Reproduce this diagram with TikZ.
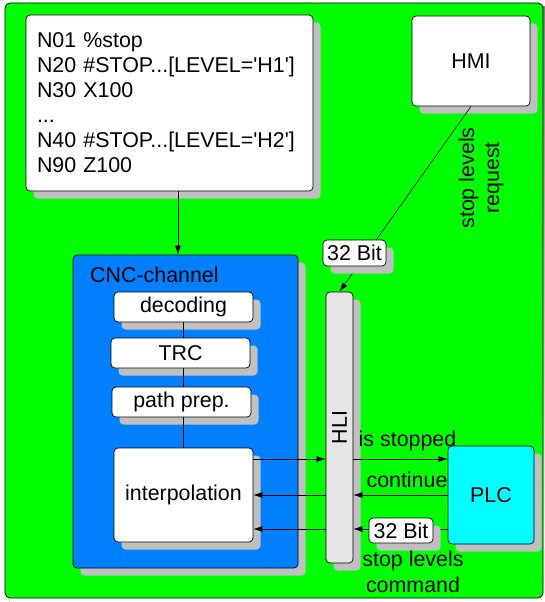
\documentclass[tikz,border=0pt]{standalone}
\usepackage{fontspec}
\newfontfamily\arial{Liberation Sans}
\usetikzlibrary{arrows.meta}
\definecolor{shade}{RGB}{192,192,192}
\definecolor{bggreen}{RGB}{0,255,0}
\definecolor{cncblue}{RGB}{0,128,255}
\definecolor{hligray}{RGB}{230,230,230}
\definecolor{plccyan}{RGB}{0,255,255}
\tikzset{
  shadowed/.style={preaction={fill=shade, draw=none, transform canvas={shift={(7.5pt,-7.5pt)}}}},
  box/.style={draw=black, line width=0.7pt, rounded corners=4pt, fill=white, shadowed, inner sep=0pt},
  arr/.style={-{Latex[length=9pt,width=6pt]}, line width=0.6pt},
  lbl/.style={inner sep=0pt, anchor=base},
}
\begin{document}
\begin{tikzpicture}[x=1pt,y=-1pt,font=\arial\fontsize{21.4}{25}\selectfont]
\useasboundingbox (0,0) rectangle (544,602);
% background
\fill[shade, rounded corners=5pt] (8,6) rectangle (548,603);
\node[draw=black, line width=0.8pt, fill=bggreen, rounded corners=5pt, minimum width=538pt, minimum height=595pt, inner sep=0pt] (bg) at (274,300.5) {};
% program box
\node[box, minimum height=176pt, text width=265pt, inner xsep=11pt, align=left] (code) at (169.5,103)
  {N01 \%stop\\N20 \#STOP...[LEVEL='H1']\\N30 X100\\...\\N40 \#STOP...[LEVEL='H2']\\N90 Z100};
% HMI
\node[box, minimum width=118pt, minimum height=90pt] (hmi) at (471,61) {HMI};
% CNC channel
\node[box, fill=cncblue, minimum width=225pt, minimum height=313pt] (cnc) at (185.5,411.5) {};
\node[lbl, anchor=base west] (cnclabel) at (90,282) {CNC-channel};
\node[box, minimum width=139pt, minimum height=30pt] (dec) at (183.5,307) {decoding};
\node[box, minimum width=139pt, minimum height=30pt] (trc) at (180.5,353) {TRC};
\node[box, minimum width=139pt, minimum height=30pt] (pp) at (181.5,402) {path prep.};
\node[box, minimum width=139pt, minimum height=94pt] (interp) at (183.5,495) {interpolation};
\draw[line width=0.6pt] (dec.south) -- (dec.south |- trc.north);
\draw[line width=0.6pt] (dec.south |- trc.south) -- (dec.south |- pp.north);
\draw[line width=0.6pt] (dec.south |- pp.south) -- (interp.north);
% HLI
\node[box, fill=hligray, minimum width=27pt, minimum height=271pt] (hli) at (339.5,427.5) {};
\node[rotate=90, inner sep=0pt] (hlitext) at (hli.center) {HLI};
% PLC
\node[box, fill=plccyan, minimum width=86pt, minimum height=98pt] (plc) at (491,495) {PLC};
% code -> CNC
\draw[arr] ([xshift=8.5pt]code.south) -- ([xshift=8.5pt]code.south |- cnc.north);
% HMI -> HLI
\draw[arr] (hmi.south) -- (hli.north);
\node[box, minimum width=63pt, minimum height=26pt] (bitA) at (354.5,253) {32 Bit};
\node[rotate=90, align=center, inner sep=0pt] (req) at (481,178) {stop levels\\request};
% rows
\coordinate (r1) at (0,459);
\coordinate (r2) at (0,495);
\coordinate (r3) at (0,529);
\draw[arr] (interp.east |- r1) -- (hli.west |- r1);
\draw[arr] (hli.east |- r1) -- (plc.west |- r1);
\draw[arr] (plc.west |- r2) -- (hli.east |- r2);
\draw[arr] (hli.west |- r2) -- (interp.east |- r2);
\draw[arr] (plc.west |- r3) -- (hli.east |- r3);
\draw[arr] (hli.west |- r3) -- (interp.east |- r3);
\node[box, minimum width=64pt, minimum height=25pt] (bitB) at (401,530.5) {32 Bit};
\node[lbl] (stopped) at (407.5,446) {is stopped};
\node[lbl] (cont) at (407,487) {continue};
\node[lbl] (cmd1) at (413,566) {stop levels};
\node[lbl] (cmd2) at (413,592) {command};
\end{tikzpicture}
\end{document}
